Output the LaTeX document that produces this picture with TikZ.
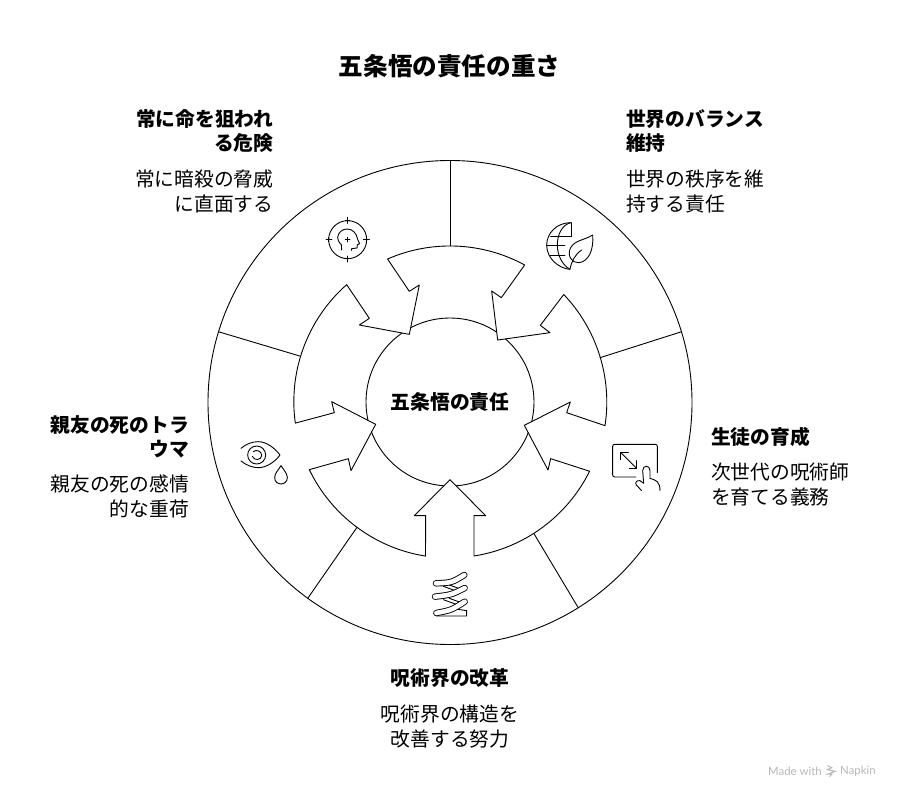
\documentclass[tikz,border=0pt]{standalone}
\usepackage{fontspec}
\setmainfont{Noto Sans CJK JP}
\newfontfamily\footfont{Lato}
\tikzset{
  line/.style={line width=0.9pt,line join=round,line cap=round},
  icon/.style={line width=0.9pt,line join=round,line cap=round},
  head/.style={font=\fontsize{19.75}{24.5}\selectfont\bfseries,inner sep=0pt},
  body/.style={font=\fontsize{19.75}{24.5}\selectfont,inner sep=0pt},
  gap/.style={fill=white,draw=none},
}
\begin{document}
\begin{tikzpicture}[x=1pt,y=-1pt]
  \useasboundingbox (0,0) rectangle (900,798);
  \fill[color=white] (0,0) rectangle (900,798);
  \node[font=\fontsize{24.6}{30}\selectfont\bfseries,inner sep=0pt] (title) at (449.5,66.5) {五条悟の責任の重さ};
  % wheel
  \node[circle,draw,line,minimum size=484pt,inner sep=0pt,outer sep=0pt] (rim) at (450,402.5) {};
  \node[circle,draw,line,minimum size=168pt,inner sep=0pt,outer sep=0pt,
    font=\fontsize{19.8}{24}\selectfont\bfseries] (hub) at (450,402) {五条悟の責任};
  \coordinate (spokeA) at (450,245.7);
  \coordinate (spokeB) at (300.7,356.3);
  \coordinate (spokeC) at (600,357.7);
  \coordinate (spokeD) at (357,527.3);
  \coordinate (spokeE) at (534,533.7);
  \draw[line] (rim.90) -- (spokeA);
  \draw[line] (rim.163) -- (spokeB);
  \draw[line] (rim.17) -- (spokeC);
  \draw[line] (rim.234) -- (spokeD);
  \draw[line] (rim.302.6) -- (spokeE);
  % arrows cut into the ring
  \begin{scope}[shift={(280,220)},scale=1/3]
    \fill[gap] (388,343) -- (418,195) -- (238,315) -- cycle;
    \fill[gap] (287,613) -- (155,545) -- (213,752) -- cycle;
    \fill[gap] (510,779) -- (403,887) -- (617,887) -- cycle;
    \fill[gap] (733,616) -- (804,750) -- (871,546) -- cycle;
    \fill[gap] (653,360) -- (810,338) -- (635,213) -- cycle;
    \draw[line] (734,135) arc[start angle=298.6,end angle=246.4,radius=468]
      -- (388,214) -- (418,195) -- (388,343) -- (238,315) -- (268,295) -- (200,194)
      arc[start angle=228.6,end angle=172.1,radius=468]
      -- (163,578) -- (155,545) -- (287,613) -- (213,752) -- (205,716) -- (88,749)
      arc[start angle=154.3,end angle=99,radius=468]
      -- (437,887) -- (403,887) -- (510,779) -- (617,887) -- (582,887) -- (582,1008)
      arc[start angle=81.1,end angle=26.4,radius=468]
      -- (812,716) -- (804,750) -- (733,616) -- (871,546) -- (860,578) -- (975,617)
      arc[start angle=8.7,end angle=-43.6,radius=468]
      -- (781,316) -- (810,338) -- (653,360) -- (635,213) -- (664,233) -- cycle;
  \end{scope}
  % target icon
  \begin{scope}[shift={(310,200)},scale=1/3]
    \draw[icon] (113,119) circle (57);
    \draw[icon] (113,52) -- (113,70) (107,62) -- (119,62);
    \draw[icon] (113,168) -- (113,186) (107,176) -- (119,176);
    \draw[icon] (48,119) -- (66,119) (56,113) -- (56,125);
    \draw[icon] (160,119) -- (178,119) (170,113) -- (170,125);
    \draw[icon] (106,119) -- (120,119) (113,112) -- (113,126);
    \draw[icon] (95,150) -- (94,134) .. controls (86,126) and (82,118) .. (83,112)
      .. controls (85,96) and (98,87) .. (111,87)
      .. controls (128,87) and (140,100) .. (143,118)
      -- (149,131) -- (142,134) -- (141,144) -- (125,146) -- (124,151);
  \end{scope}
  % globe and leaf icon
  \begin{scope}[shift={(530,205)},scale=1/3]
    \draw[icon] (122,53) .. controls (80,53) and (50,85) .. (50,120)
      .. controls (50,160) and (85,190) .. (120,193);
    \draw[icon] (122,53) .. controls (95,60) and (82,90) .. (82,120)
      .. controls (82,155) and (100,182) .. (120,193);
    \draw[icon] (125,53) -- (125,95);
    \draw[icon] (62,93) -- (125,93);
    \draw[icon] (50,120) -- (105,120);
    \draw[icon] (60,150) -- (105,150);
    \draw[icon] (188,90) .. controls (165,105) and (135,105) .. (122,128)
      .. controls (110,150) and (125,175) .. (145,173)
      .. controls (175,172) and (192,135) .. (188,90) -- cycle;
    \draw[icon] (120,192) .. controls (124,170) and (135,148) .. (155,135);
  \end{scope}
  % touch icon
  \begin{scope}[shift={(600,430)},scale=1/3]
    \draw[icon,rounded corners=2pt] (108,141) -- (38,141) -- (38,43) -- (172,43) -- (172,128);
    \draw[icon] (62,67) -- (110,115);
    \draw[icon] (62,89) -- (62,67) -- (85,67);
    \draw[icon] (110,92) -- (110,115) -- (88,115);
    \draw[icon] (125,182) -- (109,165) .. controls (104,158) and (110,150) .. (120,152)
      -- (131,160) -- (128,122) .. controls (128,104) and (150,104) .. (150,122)
      -- (150,145) .. controls (168,150) and (180,155) .. (180,182);
  \end{scope}
  % spring icon
  \begin{scope}[shift={(410,560)},scale=1/3]
    \draw[icon] (100,79) -- (150,97) (118,75) -- (165,92);
    \draw[icon] (100,119) -- (150,137) (118,115) -- (165,132);
    \draw[icon] (125,145) -- (170,152) -- (170,168) -- (80,168);
    \foreach \a/\b/\c/\d/\e/\f in {78/70/163/45/125/68,75/110/164/84/125/104,79/159/164/125/125/150}{
      \draw[line width=6.4pt,line cap=round] (\a,\b) .. controls (\e,\f) .. (\c,\d);
      \draw[line width=4.6pt,line cap=round,white] (\a,\b) .. controls (\e,\f) .. (\c,\d);
    }
  \end{scope}
  % eye icon
  \begin{scope}[shift={(230,425)},scale=1/3]
    \draw[icon] (33,70) .. controls (50,55) and (70,50) .. (85,50)
      .. controls (110,50) and (135,70) .. (150,90)
      .. controls (135,110) and (110,128) .. (85,128)
      .. controls (70,128) and (50,122) .. (33,108);
    \draw[icon] (80,90) circle (27);
    \draw[icon] (70,80) .. controls (78,72) and (96,78) .. (95,92)
      .. controls (94,106) and (72,108) .. (67,94);
    \draw[icon] (153,122) .. controls (145,135) and (134,145) .. (134,158)
      .. controls (134,183) and (172,183) .. (172,158)
      .. controls (172,145) and (161,135) .. (153,122) -- cycle;
  \end{scope}
  % labels
  \node[head,anchor=north east,align=right] (dangerhead) at (273.5,109) {常に命を狙われ\\る危険};
  \node[body,anchor=north east,align=right] (dangerbody) at (273.5,170) {常に暗殺の脅威\\に直面する};
  \node[head,anchor=north west,align=left] (balancehead) at (626,109) {世界のバランス\\維持};
  \node[body,anchor=north west,align=left] (balancebody) at (626,170) {世界の秩序を維\\持する責任};
  \node[head,anchor=north west,align=left] (studenthead) at (711,427) {生徒の育成};
  \node[body,anchor=north west,align=left] (studentbody) at (711,463) {次世代の呪術師\\を育てる義務};
  \node[head,anchor=north,align=center] (reformhead) at (450,668) {呪術界の改革};
  \node[body,anchor=north,align=center] (reformbody) at (450,705) {呪術界の構造を\\改善する努力};
  \node[head,anchor=north east,align=right] (friendhead) at (189,415) {親友の死のトラ\\ウマ};
  \node[body,anchor=north east,align=right] (friendbody) at (189,475) {親友の死の感情\\的な重荷};
  % footer
  \node[font=\footfont\fontsize{11.4}{12}\selectfont,text=black!28,anchor=west,inner sep=0pt] (madewith) at (768,771) {Made with};
  \node[font=\footfont\fontsize{11.4}{12}\selectfont,text=black!28,anchor=west,inner sep=0pt] (napkin) at (840,771) {Napkin};
  \begin{scope}[shift={(750,750)},scale=1/3]
    \draw[line width=1pt,black!28] (232,47) -- (245,53) -- (232,59) -- (256,64) -- (234,72) -- (246,72) -- (238,80);
  \end{scope}
\end{tikzpicture}
\end{document}
